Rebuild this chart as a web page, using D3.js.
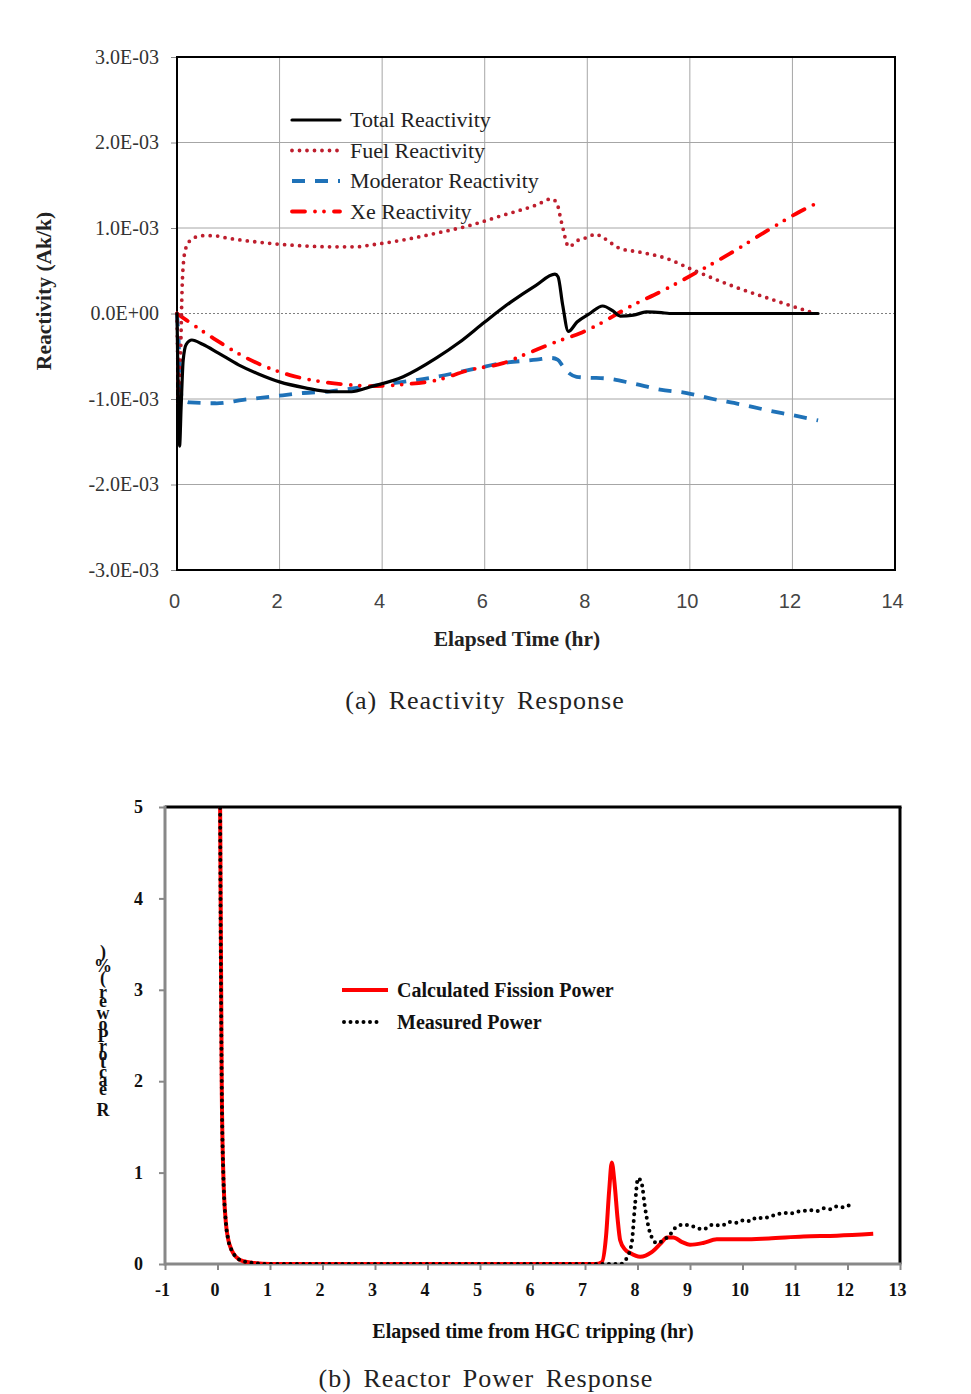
<!DOCTYPE html>
<html><head><meta charset="utf-8">
<script src="https://cdn.jsdelivr.net/npm/d3@7"></script>
<style>html,body{margin:0;padding:0;background:#fff}svg{display:block}</style>
</head><body>
<script>
// ---------- DATA: (a) Reactivity response (values in units of 1E-03 dk/k) ----------
const totalT   = [0,0.02,0.05,0.08,0.12,0.18,0.29,0.5,0.8,1.2,1.6,2.0,2.5,3.0,3.4,3.76,4.41,5.06,5.5,6.0,6.5,7.0,7.37,7.43,7.52,7.63,7.8,8.05,8.3,8.5,8.64,8.9,9.15,9.45,9.6,10,11,12,12.5];
const totalV   = [0,-0.8,-1.55,-1.1,-0.55,-0.36,-0.31,-0.36,-0.46,-0.6,-0.71,-0.8,-0.87,-0.915,-0.915,-0.86,-0.74,-0.52,-0.34,-0.1,0.13,0.33,0.46,0.43,0.1,-0.21,-0.1,0.0,0.088,0.03,-0.03,-0.02,0.018,0.01,0,0,0,0,0];
const fuelT    = [0,0.02,0.04,0.07,0.1,0.13,0.18,0.25,0.35,0.5,0.7,1.0,1.5,2.0,2.5,3.0,3.5,3.76,4.41,5.06,5.71,6.36,7.01,7.3,7.4,7.5,7.64,7.8,8.05,8.15,8.3,8.64,9.0,9.54,10.06,10.84,11.62,12.44];
const fuelV    = [0,-0.7,-1.15,-0.5,0.3,0.62,0.78,0.85,0.89,0.91,0.91,0.88,0.84,0.81,0.79,0.78,0.78,0.8,0.86,0.94,1.03,1.15,1.27,1.34,1.3,1.06,0.78,0.85,0.9,0.93,0.89,0.76,0.72,0.645,0.51,0.32,0.16,0.0];
const modT     = [0,0.03,0.06,0.1,0.25,0.77,1.29,1.87,2.46,2.98,3.5,3.76,4.41,5.06,5.7,6.36,7.01,7.3,7.42,7.53,7.65,7.79,8.0,8.38,8.9,9.42,9.94,10.45,10.97,11.5,12.01,12.5];
const modV     = [0,-0.3,-0.75,-1.0,-1.04,-1.05,-1.01,-0.97,-0.93,-0.91,-0.87,-0.85,-0.8,-0.74,-0.66,-0.58,-0.54,-0.52,-0.54,-0.62,-0.7,-0.74,-0.75,-0.76,-0.82,-0.89,-0.93,-1.0,-1.06,-1.13,-1.19,-1.25];
const xeT      = [0,0.19,0.71,1.42,2.2,2.85,3.5,3.76,4.41,5.06,5.71,6.36,6.82,7.4,7.86,8.18,8.83,9.48,10.13,10.78,11.43,12.08,12.47];
const xeV      = [0,-0.08,-0.29,-0.54,-0.72,-0.8,-0.84,-0.85,-0.83,-0.78,-0.66,-0.58,-0.47,-0.33,-0.23,-0.14,0.08,0.27,0.48,0.7,0.94,1.17,1.29];
const topXTicks = [0,2,4,6,8,10,12,14];
const topYTicks = [-3,-2,-1,0,1,2,3];
const topLegend = ["Total Reactivity","Fuel Reactivity","Moderator Reactivity","Xe Reactivity"];

// ---------- DATA: (b) Reactor power response (%) ----------
const calcT = [0,0.03,0.05,0.08,0.11,0.16,0.2,0.27,0.35,0.49,0.7,1,2,3,4,5,6,7,7.2,7.32,7.4,7.46,7.51,7.56,7.62,7.67,7.76,7.86,8.05,8.27,8.45,8.56,8.68,8.85,9.0,9.25,9.51,10.02,10.5,11.16,11.8,12.49];
const calcV = [100,9,5,2.0,1.0,0.45,0.28,0.15,0.08,0.03,0.01,0,0,0,0,0,0,0,0,0.02,0.3,0.8,1.11,0.9,0.5,0.26,0.16,0.12,0.08,0.13,0.23,0.29,0.29,0.24,0.21,0.23,0.27,0.27,0.28,0.3,0.31,0.33];
const measT = [0,0.03,0.05,0.08,0.11,0.16,0.2,0.27,0.35,0.49,0.7,1,2,3,4,5,6,7,7.5,7.67,7.79,7.89,7.95,8.01,8.08,8.14,8.24,8.37,8.49,8.62,8.71,8.87,9.06,9.25,9.44,9.6,9.76,9.9,10.02,10.15,10.27,10.4,10.52,10.65,10.78,10.9,11.03,11.16,11.29,11.42,11.54,11.67,11.79,11.92,12.05];
const measV = [100,9,5,2.0,1.0,0.45,0.28,0.15,0.08,0.03,0.01,0,0,0,0,0,0,0,0,0,0.06,0.23,0.63,0.94,0.88,0.63,0.34,0.23,0.26,0.32,0.39,0.43,0.41,0.38,0.43,0.42,0.46,0.45,0.48,0.47,0.51,0.5,0.52,0.54,0.56,0.55,0.57,0.58,0.59,0.58,0.61,0.6,0.63,0.62,0.65];
const botXTicks = [-1,0,1,2,3,4,5,6,7,8,9,10,11,12,13];
const botYTicks = [0,1,2,3,4,5];
const botLegend = ["Calculated Fission Power","Measured Power"];
const botYLabel = "Reactor Power (%)";

// ---------- drawing ----------
const W = 971, H = 1394;
const SERIF = "'Liberation Serif','Times New Roman',serif";
const SANS = "'Liberation Sans',Arial,sans-serif";
const svg = d3.select("body").append("svg").attr("width", W).attr("height", H);

const fmtE = v => {
  const val = v * 1e-3;
  if (Math.abs(val) < 1e-12) return "0.0E+00";
  const [m, e] = val.toExponential(1).split("e");
  const n = +e;
  return m + "E" + (n < 0 ? "-" : "+") + String(Math.abs(n)).padStart(2, "0");
};
const fmtInt = d => String(d);

// ===== Chart (a) =====
const xa = d3.scaleLinear().domain([0, 14]).range([177, 895]);
const ya = d3.scaleLinear().domain([-3, 3]).range([570, 57]);
const ga = svg.append("g");

// grid
ga.append("g").selectAll("line").data(topXTicks.filter(d => d > 0 && d < 14)).join("line")
  .attr("x1", d => xa(d)).attr("x2", d => xa(d)).attr("y1", ya(3)).attr("y2", ya(-3))
  .attr("stroke", "#a6a6a6").attr("stroke-width", 1);
ga.append("g").selectAll("line").data(topYTicks.filter(d => d !== 0 && Math.abs(d) < 3)).join("line")
  .attr("x1", xa(0)).attr("x2", xa(14)).attr("y1", d => ya(d)).attr("y2", d => ya(d))
  .attr("stroke", "#a6a6a6").attr("stroke-width", 1);
ga.append("line").attr("x1", xa(0)).attr("x2", xa(14)).attr("y1", ya(0)).attr("y2", ya(0))
  .attr("stroke", "#7f7f7f").attr("stroke-width", 1).attr("stroke-dasharray", "2 2");

// axes
const yAxA = ga.append("g").attr("transform", `translate(${xa(0)},0)`)
  .call(d3.axisLeft(ya).tickValues(topYTicks).tickFormat(fmtE).tickSize(6).tickPadding(12));
yAxA.select(".domain").remove();
yAxA.selectAll("line").attr("stroke", "#888");
yAxA.selectAll("text").attr("font-family", SERIF).attr("font-size", 20).attr("fill", "#333");
const xAxA = ga.append("g").attr("transform", `translate(0,${ya(-3)})`)
  .call(d3.axisBottom(xa).tickValues(topXTicks).tickFormat(fmtInt).tickSize(0).tickPadding(24));
xAxA.select(".domain").remove();
xAxA.selectAll("text").attr("font-family", SANS).attr("font-size", 20).attr("fill", "#444")
  .attr("dx", -3);

// frame
ga.append("rect").attr("x", xa(0)).attr("y", ya(3)).attr("width", xa(14) - xa(0)).attr("height", ya(-3) - ya(3))
  .attr("fill", "none").attr("stroke", "#000").attr("stroke-width", 2);

const lineA = d3.line().x(d => xa(d[0])).y(d => ya(d[1])).curve(d3.curveMonotoneX);
const zip = (a, b) => a.map((t, i) => [t, b[i]]);
const seriesA = [
  { name: topLegend[0], data: zip(totalT, totalV), color: "#000", w: 3.2, dash: null, cap: "round" },
  { name: topLegend[1], data: zip(fuelT, fuelV), color: "#be1e2d", w: 3.8, dash: "0 7.5", cap: "round" },
  { name: topLegend[2], data: zip(modT, modV), color: "#1f72b8", w: 3.8, dash: "13 10", cap: "butt" },
  { name: topLegend[3], data: zip(xeT, xeV), color: "#ff0000", w: 3.8, dash: "13 10 0 9 0 10", cap: "round" }
];
// draw order: moderator, xe, fuel, total on top
[2, 3, 1, 0].forEach(i => {
  const s = seriesA[i];
  ga.append("path").attr("d", lineA(s.data)).attr("fill", "none")
    .attr("stroke", s.color).attr("stroke-width", s.w).attr("stroke-linecap", s.cap)
    .attr("stroke-linejoin", "round").attr("stroke-dasharray", s.dash);
});

// legend (a)
const legA = ga.append("g");
seriesA.forEach((s, i) => {
  const y = 120 + i * 30.5;
  legA.append("line").attr("x1", 292).attr("x2", 340).attr("y1", y).attr("y2", y)
    .attr("stroke", s.color).attr("stroke-width", s.w).attr("stroke-linecap", s.cap)
    .attr("stroke-dasharray", s.dash);
  legA.append("text").attr("x", 350).attr("y", y + 7).text(s.name)
    .attr("font-family", SERIF).attr("font-size", 22).attr("fill", "#222");
});

// titles (a)
ga.append("text").attr("x", 517).attr("y", 646).attr("text-anchor", "middle")
  .attr("font-family", SERIF).attr("font-weight", "bold").attr("font-size", 21.5).attr("fill", "#222")
  .text("Elapsed Time (hr)");
ga.append("text").attr("transform", "translate(51,291) rotate(-90)").attr("text-anchor", "middle")
  .attr("font-family", SERIF).attr("font-weight", "bold").attr("font-size", 21.5).attr("fill", "#222")
  .text("Reactivity (Ak/k)");
svg.append("text").attr("x", 485).attr("y", 709).attr("text-anchor", "middle")
  .attr("font-family", SERIF).attr("font-size", 26).attr("fill", "#222")
  .attr("letter-spacing", 1).attr("word-spacing", 4)
  .text("(a) Reactivity Response");

// ===== Chart (b) =====
const xb = d3.scaleLinear().domain([-1, 13]).range([165, 900]);
const yb = d3.scaleLinear().domain([0, 5]).range([1264, 807]);
const gb = svg.append("g");

gb.append("clipPath").attr("id", "clipb").append("rect")
  .attr("x", xb(-1)).attr("y", yb(5)).attr("width", xb(13) - xb(-1)).attr("height", yb(0) - yb(5));

const xAxB = gb.append("g").attr("transform", `translate(0,${yb(0)})`)
  .call(d3.axisBottom(xb).tickValues(botXTicks).tickFormat(fmtInt).tickSize(6).tickPadding(13));
xAxB.select(".domain").remove();
xAxB.selectAll("line").attr("stroke", "#888").attr("stroke-width", 2);
xAxB.selectAll("text").attr("font-family", SERIF).attr("font-weight", "bold").attr("font-size", 18).attr("fill", "#111")
  .attr("dx", -3);
const yAxB = gb.append("g").attr("transform", `translate(${xb(-1)},0)`)
  .call(d3.axisLeft(yb).tickValues(botYTicks).tickFormat(fmtInt).tickSize(6).tickPadding(16));
yAxB.select(".domain").remove();
yAxB.selectAll("line").attr("stroke", "#888").attr("stroke-width", 2);
yAxB.selectAll("text").attr("font-family", SERIF).attr("font-weight", "bold").attr("font-size", 18).attr("fill", "#111");

// frame (b)
gb.append("line").attr("x1", xb(-1)).attr("x2", xb(13) + 1.5).attr("y1", yb(5)).attr("y2", yb(5)).attr("stroke", "#000").attr("stroke-width", 3);
gb.append("line").attr("x1", xb(13)).attr("x2", xb(13)).attr("y1", yb(5)).attr("y2", yb(0)).attr("stroke", "#000").attr("stroke-width", 3);
gb.append("line").attr("x1", xb(-1)).attr("x2", xb(-1)).attr("y1", yb(5) - 1.5).attr("y2", yb(0) + 1.5).attr("stroke", "#888").attr("stroke-width", 3);
gb.append("line").attr("x1", xb(-1)).attr("x2", xb(13) + 1.5).attr("y1", yb(0)).attr("y2", yb(0)).attr("stroke", "#888").attr("stroke-width", 3);

const lineB = d3.line().x(d => xb(d[0])).y(d => yb(d[1])).curve(d3.curveMonotoneX);
const plotB = gb.append("g").attr("clip-path", "url(#clipb)");
plotB.append("path").attr("d", lineB(zip(calcT, calcV))).attr("fill", "none")
  .attr("stroke", "#ff0000").attr("stroke-width", 4).attr("stroke-linejoin", "round");
plotB.append("path").attr("d", lineB(zip(measT, measV))).attr("fill", "none")
  .attr("stroke", "#000").attr("stroke-width", 4).attr("stroke-linecap", "round").attr("stroke-dasharray", "0 6.5");

// legend (b)
gb.append("line").attr("x1", 342).attr("x2", 388).attr("y1", 990).attr("y2", 990).attr("stroke", "#ff0000").attr("stroke-width", 4);
gb.append("line").attr("x1", 344).attr("x2", 382).attr("y1", 1022).attr("y2", 1022).attr("stroke", "#000")
  .attr("stroke-width", 4).attr("stroke-linecap", "round").attr("stroke-dasharray", "0 6.5");
botLegend.forEach((t, i) => {
  gb.append("text").attr("x", 397).attr("y", 997 + i * 32).text(t)
    .attr("font-family", SERIF).attr("font-weight", "bold").attr("font-size", 20).attr("fill", "#111");
});

// stacked y label (b), drawn bottom-to-top
const stackY = [1116, 1095, 1086, 1078, 1068, 1060, 1052, 1046, 1042, 1030, 1019, 1007, 998, 990, 984, 972, 958];
botYLabel.split("").forEach((ch, i) => {
  if (ch === " ") return;
  gb.append("text").attr("x", 103).attr("y", stackY[i]).attr("text-anchor", "middle")
    .attr("font-family", SERIF).attr("font-weight", "bold").attr("font-size", 18).attr("fill", "#111").text(ch);
});

gb.append("text").attr("x", 533).attr("y", 1338).attr("text-anchor", "middle")
  .attr("font-family", SERIF).attr("font-weight", "bold").attr("font-size", 20).attr("fill", "#111")
  .text("Elapsed time from HGC tripping (hr)");
svg.append("text").attr("x", 486).attr("y", 1387).attr("text-anchor", "middle")
  .attr("font-family", SERIF).attr("font-size", 26).attr("fill", "#222")
  .attr("letter-spacing", 1).attr("word-spacing", 4)
  .text("(b) Reactor Power Response");
</script>
</body></html>
